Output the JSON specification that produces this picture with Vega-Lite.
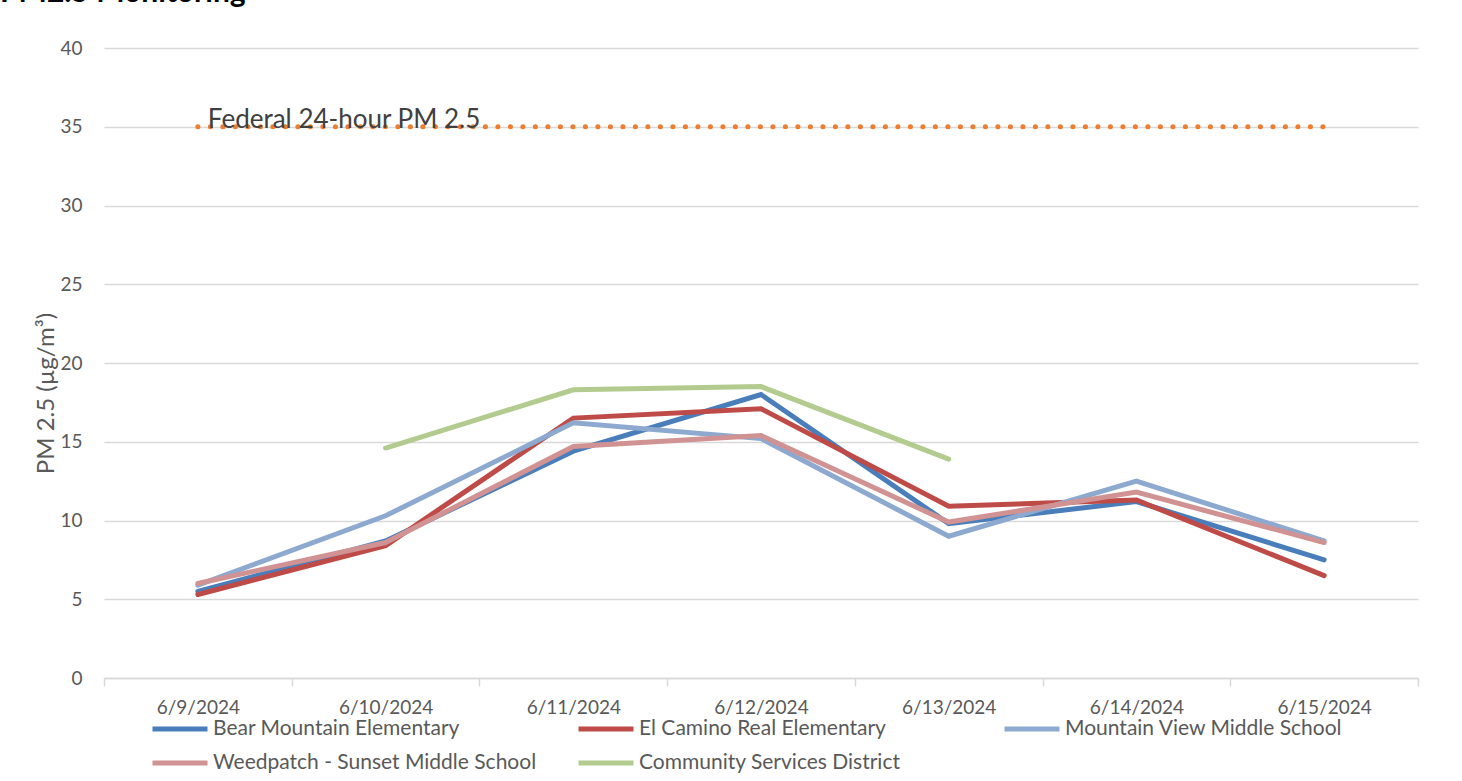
{
  "$schema": "https://vega.github.io/schema/vega-lite/v6.json",
  "width": 1314,
  "height": 630,
  "autosize": {"type": "none"},
  "padding": {"left": 104, "top": 48, "right": 44, "bottom": 103},
  "background": "white",
  "title": {"text": "PM2.5 Monitoring", "anchor": "start", "frame": "group", "fontSize": 30, "font": "Lato", "fontWeight": "bold", "color": "#000000", "dx": -104, "offset": 31},
  "config": {"view": {"stroke": null}, "font": "Lato"},
  "datasets": {
    "pm": [
      {"date": "6/9/2024", "site": "Bear Mountain Elementary", "value": 5.5},
      {"date": "6/10/2024", "site": "Bear Mountain Elementary", "value": 8.7},
      {"date": "6/11/2024", "site": "Bear Mountain Elementary", "value": 14.4},
      {"date": "6/12/2024", "site": "Bear Mountain Elementary", "value": 18.0},
      {"date": "6/13/2024", "site": "Bear Mountain Elementary", "value": 9.8},
      {"date": "6/14/2024", "site": "Bear Mountain Elementary", "value": 11.2},
      {"date": "6/15/2024", "site": "Bear Mountain Elementary", "value": 7.5},
      {"date": "6/9/2024", "site": "El Camino Real Elementary", "value": 5.3},
      {"date": "6/10/2024", "site": "El Camino Real Elementary", "value": 8.4},
      {"date": "6/11/2024", "site": "El Camino Real Elementary", "value": 16.5},
      {"date": "6/12/2024", "site": "El Camino Real Elementary", "value": 17.1},
      {"date": "6/13/2024", "site": "El Camino Real Elementary", "value": 10.9},
      {"date": "6/14/2024", "site": "El Camino Real Elementary", "value": 11.3},
      {"date": "6/15/2024", "site": "El Camino Real Elementary", "value": 6.5},
      {"date": "6/9/2024", "site": "Mountain View Middle School", "value": 5.9},
      {"date": "6/10/2024", "site": "Mountain View Middle School", "value": 10.3},
      {"date": "6/11/2024", "site": "Mountain View Middle School", "value": 16.2},
      {"date": "6/12/2024", "site": "Mountain View Middle School", "value": 15.2},
      {"date": "6/13/2024", "site": "Mountain View Middle School", "value": 9.0},
      {"date": "6/14/2024", "site": "Mountain View Middle School", "value": 12.5},
      {"date": "6/15/2024", "site": "Mountain View Middle School", "value": 8.7},
      {"date": "6/9/2024", "site": "Weedpatch - Sunset Middle School", "value": 6.0},
      {"date": "6/10/2024", "site": "Weedpatch - Sunset Middle School", "value": 8.6},
      {"date": "6/11/2024", "site": "Weedpatch - Sunset Middle School", "value": 14.7},
      {"date": "6/12/2024", "site": "Weedpatch - Sunset Middle School", "value": 15.4},
      {"date": "6/13/2024", "site": "Weedpatch - Sunset Middle School", "value": 9.9},
      {"date": "6/14/2024", "site": "Weedpatch - Sunset Middle School", "value": 11.8},
      {"date": "6/15/2024", "site": "Weedpatch - Sunset Middle School", "value": 8.6},
      {"date": "6/10/2024", "site": "Community Services District", "value": 14.6},
      {"date": "6/11/2024", "site": "Community Services District", "value": 18.3},
      {"date": "6/12/2024", "site": "Community Services District", "value": 18.5},
      {"date": "6/13/2024", "site": "Community Services District", "value": 13.9}
    ],
    "federal": [
      {"date": "6/9/2024", "value": 35, "label": "Federal 24-hour PM 2.5"},
      {"date": "6/10/2024", "value": 35, "label": ""},
      {"date": "6/11/2024", "value": 35, "label": ""},
      {"date": "6/12/2024", "value": 35, "label": ""},
      {"date": "6/13/2024", "value": 35, "label": ""},
      {"date": "6/14/2024", "value": 35, "label": ""},
      {"date": "6/15/2024", "value": 35, "label": ""}
    ]
  },
  "encoding": {
    "x": {
      "field": "date", "type": "nominal", "sort": null,
      "scale": {"type": "band", "domain": ["6/9/2024", "6/10/2024", "6/11/2024", "6/12/2024", "6/13/2024", "6/14/2024", "6/15/2024"], "paddingInner": 0, "paddingOuter": 0},
      "axis": {"title": null, "labelAngle": 0, "labelFontSize": 19, "labelColor": "#595959", "labelFont": "Lato", "labelPadding": 12, "tickBand": "extent", "ticks": true, "tickSize": 8, "tickColor": "#D9D9D9", "tickWidth": 1.5, "domainColor": "#D9D9D9", "domainWidth": 1.5, "grid": false}
    },
    "y": {
      "field": "value", "type": "quantitative",
      "scale": {"domain": [0, 40], "nice": false},
      "axis": {"title": "PM 2.5 (µg/m³)", "titleFontSize": 24, "titleFont": "Lato", "titleFontWeight": "normal", "titleColor": "#595959", "titleAngle": -90, "titleX": -58, "titleY": 345, "titleAlign": "center", "titleBaseline": "middle", "values": [0, 5, 10, 15, 20, 25, 30, 35, 40], "labelFontSize": 19, "labelColor": "#595959", "labelFont": "Lato", "labelPadding": 22, "ticks": false, "domain": false, "grid": true, "gridColor": "#D9D9D9", "gridWidth": 1.5}
    }
  },
  "layer": [
    {
      "data": {"name": "federal"},
      "mark": {"type": "line", "color": "#ED7D31", "strokeWidth": 5, "strokeCap": "round", "strokeDash": [0.1, 12.4]}
    },
    {
      "data": {"name": "federal"},
      "transform": [{"filter": "datum.label != ''"}],
      "mark": {"type": "text", "align": "left", "baseline": "middle", "dx": 10, "dy": -7, "fontSize": 26, "font": "Lato", "color": "#404040"},
      "encoding": {"text": {"field": "label"}}
    },
    {
      "data": {"name": "pm"},
      "mark": {"type": "line", "strokeWidth": 5, "strokeCap": "round", "strokeJoin": "miter"},
      "encoding": {
        "color": {
          "field": "site", "type": "nominal",
          "scale": {
            "domain": ["Bear Mountain Elementary", "El Camino Real Elementary", "Mountain View Middle School", "Weedpatch - Sunset Middle School", "Community Services District"],
            "range": ["#4A7EBB", "#BE4B48", "#8DA9CF", "#D09292", "#B4CB8F"]
          },
          "legend": {"orient": "none", "legendX": 46, "legendY": 670, "direction": "horizontal", "columns": 3, "title": null, "symbolType": "stroke", "symbolSize": 3025, "symbolStrokeWidth": 5, "labelFontSize": 21, "labelLimit": 0, "labelColor": "#595959", "labelFont": "Lato", "gridAlign": "all", "columnPadding": 39, "rowPadding": 12, "labelOffset": 3, "clipHeight": 22}
        },
        "order": {"field": "site"}
      }
    }
  ]
}
